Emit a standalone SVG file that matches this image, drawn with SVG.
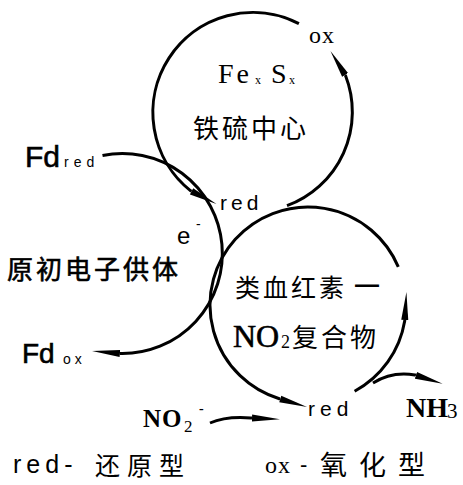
<svg xmlns="http://www.w3.org/2000/svg" width="463" height="485" viewBox="0 0 463 485">
  <style>
    .ln { fill: none; stroke: #000; stroke-width: 3; }
    .arw { marker-end: url(#ah); }
    .cjk { font-family: "Noto Sans CJK SC", "Noto Sans CJK JP", sans-serif; fill: #000; }
    .sans { font-family: "Liberation Sans", Arial, sans-serif; fill: #000; }
    .serif { font-family: "Liberation Serif", "Times New Roman", serif; fill: #000; }
    .thick { stroke: #000; stroke-width: 0.6; }
  </style>
  <defs>
    <marker id="ah" markerUnits="userSpaceOnUse" viewBox="0 -4 28 8" refX="0" refY="0" markerWidth="28" markerHeight="8" orient="auto">
      <path d="M0,-3.5 L28,0 L0,3.5 Z" fill="#000"/>
    </marker>
  </defs>
  <rect width="463" height="485" fill="#fff"/>

  <g id="connectors">
    <path class="ln arw" d="M298.9,23.7 A100,100 0 0 0 190.7,190.8 l0.89,0.46"/>
    <path class="ln arw" d="M287,205.7 A100,100 0 0 0 345.6,75.8 l-0.52,-0.85"/>
    <path class="ln arw" d="M102.5,155.5 A100,100 0 1 1 120.9,353.5 l-1,-0.09"/>
    <path class="ln arw" d="M398.3,266.9 A98,98 0 1 0 279.3,398.7 l0.96,0.29"/>
    <path class="ln arw" d="M354.6,391.2 A98,98 0 0 0 404.7,321 l0.06,-1"/>
    <path class="ln arw" d="M373,383 Q392,371 415,375 l0.95,0.3"/>
    <path class="ln arw" d="M210,423 Q226,416 251,418 l1,0.04"/>
  </g>

  <g id="fes-center">
    <text class="serif" x="309" y="43" font-size="24" letter-spacing="1">ox</text>
    <text class="serif" font-size="28"><tspan x="218" y="83" letter-spacing="3">Fe</tspan><tspan x="255" y="84" font-size="12">x</tspan><tspan x="271" y="83">S</tspan><tspan x="289" y="84" font-size="12">x</tspan></text>
    <text class="cjk" x="193" y="138" font-size="26" letter-spacing="3">铁硫中心</text>
    <text class="sans" x="220" y="210" font-size="21" letter-spacing="4">red</text>
  </g>

  <g id="fd-donor">
    <text class="sans"><tspan class="thick" x="25" y="167" font-size="30">Fd</tspan><tspan x="64" y="167" font-size="14" letter-spacing="5">red</tspan></text>
    <text class="sans"><tspan x="177" y="244" font-size="24">e</tspan><tspan x="196" y="229" font-size="14">-</tspan></text>
    <text class="cjk thick" x="7" y="279" font-size="26" letter-spacing="3">原初电子供体</text>
    <text class="sans"><tspan class="thick" x="22" y="363" font-size="28">Fd</tspan><tspan x="63" y="364" font-size="14" letter-spacing="4">ox</tspan></text>
  </g>

  <g id="siroheme-no2">
    <text class="cjk" x="235" y="297" font-size="25" letter-spacing="3">类血红素</text>
    <text class="sans" x="355" y="292" font-size="24" font-weight="bold">—</text>
    <text><tspan class="serif thick" x="233" y="347" font-size="32">NO</tspan><tspan class="serif" x="281" y="348" font-size="18">2</tspan><tspan class="cjk" x="292" y="347" font-size="26" letter-spacing="3">复合物</tspan></text>
    <text class="sans" x="308" y="416" font-size="21" letter-spacing="5">red</text>
  </g>

  <g id="nitrite">
    <text class="serif" font-weight="bold"><tspan x="143" y="427" font-size="25" letter-spacing="1">NO</tspan><tspan x="184" y="432" font-size="17" font-weight="normal">2</tspan><tspan x="199" y="413" font-size="14">-</tspan></text>
  </g>

  <g id="ammonia">
    <text class="serif" font-weight="bold"><tspan x="406" y="417" font-size="28">NH</tspan><tspan x="447" y="418" font-size="21" font-weight="normal">3</tspan></text>
  </g>

  <g id="legend">
    <text class="sans" x="13" y="473" font-size="25" letter-spacing="5">red-</text>
    <text class="cjk" x="95" y="475" font-size="25" letter-spacing="7">还原型</text>
    <text class="serif" x="265" y="473" font-size="24" letter-spacing="1">ox</text>
    <text class="sans" x="300" y="472" font-size="22">-</text>
    <text class="cjk" x="320" y="475" font-size="27" letter-spacing="12">氧化型</text>
  </g>
</svg>
